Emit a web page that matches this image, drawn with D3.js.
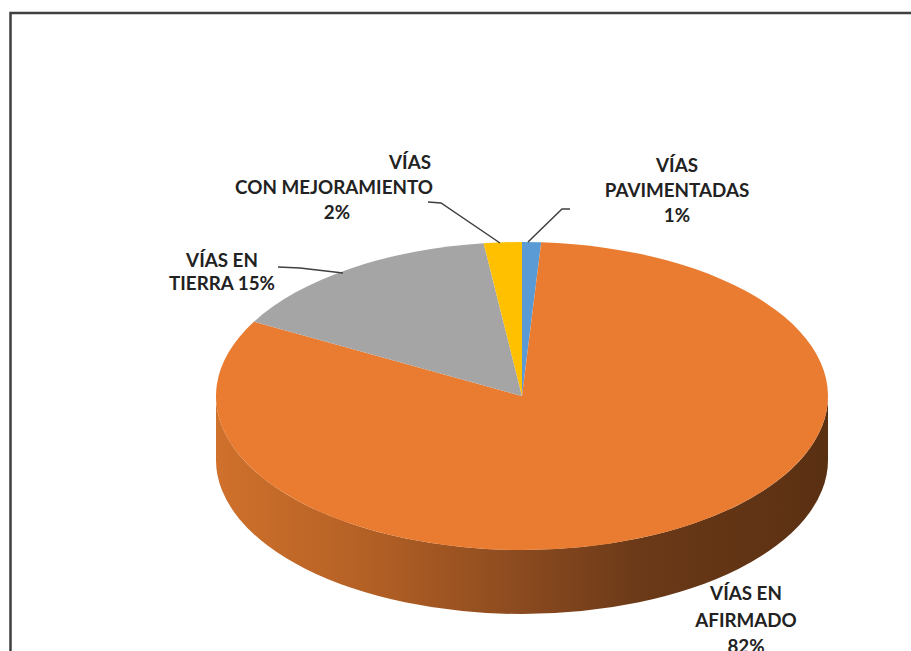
<!DOCTYPE html>
<html>
<head>
<meta charset="utf-8">
<script src="https://cdn.jsdelivr.net/npm/d3@7"></script>
<style>
  html, body { margin: 0; padding: 0; background: #ffffff; }
  svg { display: block; }
  .lbl { font-family: Lato, "Open Sans", sans-serif; font-weight: 700; font-size: 18.8px; fill: #222222; }
</style>
</head>
<body>
<svg id="chart" width="911" height="651"></svg>
<script>
// Road network by surface type (share of total length)
const categories = ["VÍAS PAVIMENTADAS", "VÍAS EN AFIRMADO", "VÍAS EN TIERRA", "VÍAS CON MEJORAMIENTO"];
const values = [1, 82, 15, 2];
const percentLabels = ["1%", "82%", "15%", "2%"];
const labelLines = [
  ["VÍAS", "PAVIMENTADAS", "1%"],
  ["VÍAS EN", "AFIRMADO", "82%"],
  ["VÍAS EN", "TIERRA 15%"],
  ["VÍAS", "CON MEJORAMIENTO", "2%"]
];
const topColors = ["#5B9BD5", "#E97C31", "#A5A5A5", "#FFC000"];

const W = 911, H = 651;
const svg = d3.select("#chart");

// chart frame
svg.append("rect")
  .attr("x", 10.5).attr("y", 13)
  .attr("width", 1000).attr("height", 800)
  .attr("fill", "none").attr("stroke", "#3f3f3f").attr("stroke-width", 2.5);

// tilted pie geometry
const cx = 522, cy = 396, rx = 306, ry = 154, depth = 64;
const pt = (a, dy = 0) => [cx + rx * Math.sin(a), cy - ry * Math.cos(a) + dy];

const pie = d3.pie().sort(null).value(d => d).startAngle(0).endAngle(2 * Math.PI);
const arcs = pie(values);

// side gradient for the front wall
const defs = svg.append("defs");
const grad = defs.append("linearGradient")
  .attr("id", "sideGrad").attr("gradientUnits", "userSpaceOnUse")
  .attr("x1", cx - rx).attr("y1", 0).attr("x2", cx + rx).attr("y2", 0);
[["0%", "#d0712c"], ["25%", "#b36025"], ["50%", "#8b4a1f"], ["70%", "#6a3918"], ["100%", "#5a3012"]]
  .forEach(([o, c]) => grad.append("stop").attr("offset", o).attr("stop-color", c));

// front wall: only the part between 3 o'clock and 9 o'clock faces the viewer
arcs.forEach((d, i) => {
  const a0 = Math.max(d.startAngle, Math.PI / 2);
  const a1 = Math.min(d.endAngle, 3 * Math.PI / 2);
  if (a1 <= a0) return;
  const s = pt(a0), e = pt(a1), eb = pt(a1, depth), sb = pt(a0, depth);
  const large = (a1 - a0) > Math.PI ? 1 : 0;
  const str = `M${s[0]},${s[1]}` +
    `A${rx},${ry} 0 ${large} 1 ${e[0]},${e[1]}` +
    `L${eb[0]},${eb[1]}` +
    `A${rx},${ry} 0 ${large} 0 ${sb[0]},${sb[1]}Z`;
  svg.append("path").attr("d", str)
    .attr("fill", i === 1 ? "url(#sideGrad)" : d3.color(topColors[i]).darker(1.2));
});

// top face slices
arcs.forEach((d, i) => {
  const s = pt(d.startAngle), e = pt(d.endAngle);
  const large = (d.endAngle - d.startAngle) > Math.PI ? 1 : 0;
  const str = `M${cx},${cy}L${s[0]},${s[1]}A${rx},${ry} 0 ${large} 1 ${e[0]},${e[1]}Z`;
  svg.append("path").attr("d", str).attr("fill", topColors[i]);
});

// leader lines
const leaders = [
  [[570, 209], [562, 209], [528, 242]],
  null,
  [[278, 267], [300, 268], [343, 273]],
  [[428, 202], [441, 203], [500, 243]]
];
const line = d3.line();
leaders.forEach(l => {
  if (!l) return;
  svg.append("path").attr("d", line(l))
    .attr("fill", "none").attr("stroke", "#3f3f3f").attr("stroke-width", 1.5);
});

// data labels
const labelLayout = [
  { x: [677, 677, 677], y: [172, 197, 222] },
  { x: [746, 746, 746], y: [600, 627, 653] },
  { x: [222, 222], y: [267, 290] },
  { x: [410, 334, 337], y: [169, 194, 219] }
];
labelLines.forEach((lines, i) => {
  const g = svg.append("text").attr("class", "lbl").attr("text-anchor", "middle");
  lines.forEach((t, j) => {
    g.append("tspan").attr("x", labelLayout[i].x[j]).attr("y", labelLayout[i].y[j]).text(t);
  });
});
</script>
</body>
</html>
